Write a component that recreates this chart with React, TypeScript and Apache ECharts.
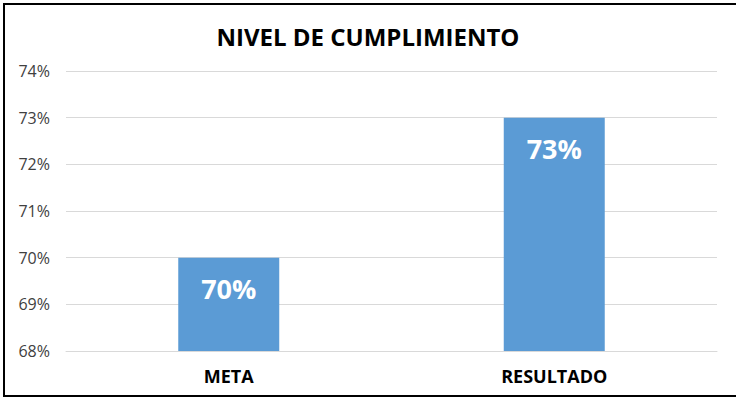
import React, { useEffect, useRef } from "react";
import * as echarts from "echarts";

const categories = ["META", "RESULTADO"];
const values = [0.7, 0.73];
const yMin = 0.68;
const yMax = 0.74;
const yStep = 0.01;
const title = "NIVEL DE CUMPLIMIENTO";

export default function App() {
  const ref = useRef<HTMLDivElement>(null);
  useEffect(() => {
    if (!ref.current) return;
    const chart = echarts.init(ref.current, undefined, { renderer: "svg" });
    chart.setOption({
      animation: false,
      backgroundColor: "#ffffff",
      title: {
        text: title,
        left: "center",
        top: 19,
        textStyle: { fontFamily: "Open Sans", fontWeight: "bold", fontSize: 24, color: "#000000" },
      },
      grid: { left: 66, right: 19, top: 71, bottom: 49 },
      xAxis: {
        type: "category",
        data: categories,
        axisLine: { lineStyle: { color: "#d9d9d9" } },
        axisTick: { show: false },
        axisLabel: {
          fontFamily: "Open Sans",
          fontWeight: "bold",
          fontSize: 18,
          color: "#000000",
          margin: 16,
        },
      },
      yAxis: {
        type: "value",
        min: yMin,
        max: yMax,
        interval: yStep,
        axisLine: { show: false },
        axisTick: { show: false },
        splitLine: { lineStyle: { color: "#d9d9d9" } },
        axisLabel: {
          fontFamily: "Open Sans",
          fontSize: 16,
          color: "#404040",
          margin: 16,
          formatter: (v: number) => Math.round(v * 100) + "%",
        },
      },
      series: [
        {
          type: "bar",
          data: values,
          barWidth: 101,
          itemStyle: { color: "#5B9BD5" },
          label: {
            show: true,
            position: "insideTop",
            distance: 17,
            fontFamily: "Open Sans",
            fontWeight: "bold",
            fontSize: 27,
            color: "#ffffff",
            formatter: (p: any) => Math.round(p.value * 100) + "%",
          },
        },
      ],
      graphic: [
        {
          type: "rect",
          shape: { x: 4, y: 4, width: 800, height: 392 },
          style: { fill: "none", stroke: "#000000", lineWidth: 2 },
          silent: true,
        },
      ],
    });
    return () => chart.dispose();
  }, []);
  return (
    <div
      ref={ref}
      style={{ position: "absolute", left: 0, top: 0, width: 736, height: 400 }}
    />
  );
}
